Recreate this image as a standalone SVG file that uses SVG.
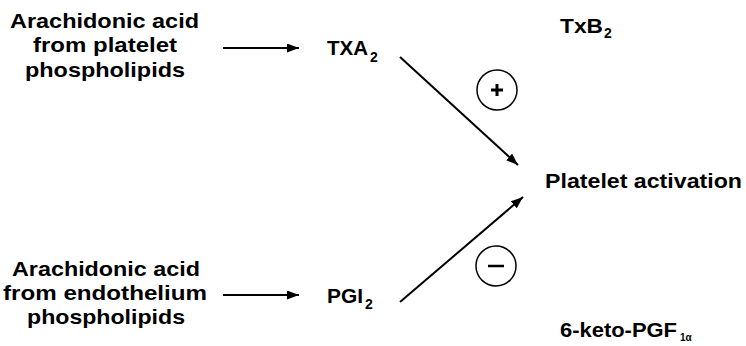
<svg xmlns="http://www.w3.org/2000/svg" width="746" height="346" viewBox="0 0 746 346">
<style>
text{font-family:"Liberation Sans",Arial,Helvetica,sans-serif;font-weight:bold;fill:#000;font-size:21px}
.sub{font-size:14px}
.sub2{font-size:10px}
.conn{stroke:#000;stroke-width:2;fill:none}
.sign{stroke:#000;fill:none}
</style>
<defs>
<marker id="ah" markerUnits="userSpaceOnUse" markerWidth="13" markerHeight="10" refX="12" refY="4.5" orient="auto">
<path d="M0,0 L12,4.5 L0,9 z" fill="#000"/>
</marker>
</defs>
<rect width="746" height="346" fill="#fff"/>
<g id="aa-platelet">
<text x="10" y="28" textLength="189" lengthAdjust="spacingAndGlyphs">Arachidonic acid</text>
<text x="33" y="52" textLength="144" lengthAdjust="spacingAndGlyphs">from platelet</text>
<text x="25" y="77" textLength="160" lengthAdjust="spacingAndGlyphs">phospholipids</text>
</g>
<g id="aa-endothelium">
<text x="12" y="276" textLength="188" lengthAdjust="spacingAndGlyphs">Arachidonic acid</text>
<text x="3" y="300" textLength="204" lengthAdjust="spacingAndGlyphs">from endothelium</text>
<text x="27" y="324" textLength="158" lengthAdjust="spacingAndGlyphs">phospholipids</text>
</g>
<g id="txa2">
<text x="327" y="55" textLength="41" lengthAdjust="spacingAndGlyphs">TXA</text>
<text class="sub" x="370" y="62">2</text>
</g>
<g id="pgi2">
<text x="327" y="303" textLength="36" lengthAdjust="spacingAndGlyphs">PGI</text>
<text class="sub" x="365" y="309">2</text>
</g>
<g id="txb2">
<text x="560" y="33" textLength="43" lengthAdjust="spacingAndGlyphs">TxB</text>
<text class="sub" x="604" y="38">2</text>
</g>
<g id="platelet-activation">
<text x="545" y="188" textLength="197" lengthAdjust="spacingAndGlyphs">Platelet activation</text>
</g>
<g id="keto">
<text x="560" y="337" textLength="117" lengthAdjust="spacingAndGlyphs">6-keto-PGF</text>
<text class="sub2" x="680" y="341">1α</text>
</g>
<g id="plus">
<circle class="sign" cx="497" cy="90" r="20" stroke-width="1.5"/>
<path class="sign" d="M491,90 H503 M497,84 V96" stroke-width="3"/>
</g>
<g id="minus">
<circle class="sign" cx="496" cy="266" r="20" stroke-width="1.5"/>
<path class="sign" d="M488,266 H504" stroke-width="2.5"/>
</g>
<g id="connectors">
<line class="conn" x1="223" y1="48" x2="299" y2="48" marker-end="url(#ah)"/>
<line class="conn" x1="223" y1="295" x2="299" y2="295" marker-end="url(#ah)"/>
<line class="conn" x1="400" y1="57" x2="518" y2="165" marker-end="url(#ah)"/>
<line class="conn" x1="400" y1="302" x2="523" y2="197" marker-end="url(#ah)"/>
</g>
</svg>
